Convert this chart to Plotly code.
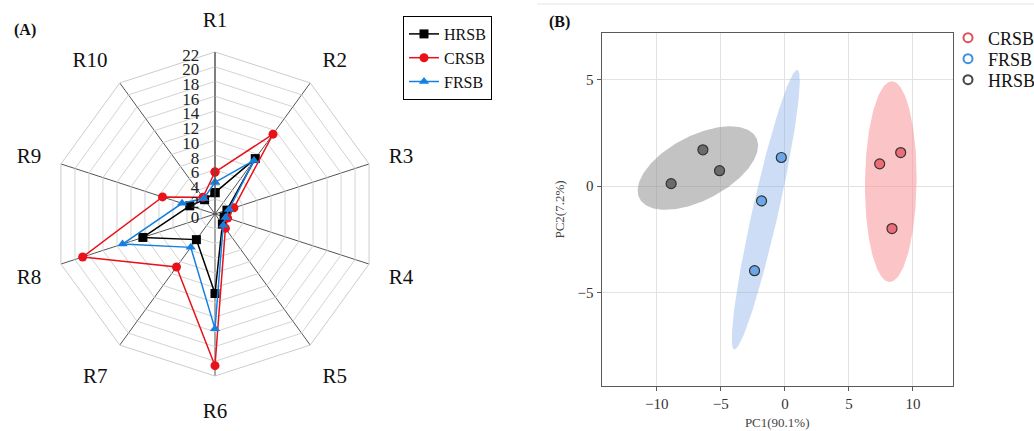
import numpy as np
import plotly.graph_objects as go

# ---------------- Data ----------------
# Panel A: radar chart
radar_axes = ["R1", "R2", "R3", "R4", "R5", "R6", "R7", "R8", "R9", "R10"]
hrsb_radar = [2.9, 9.3, 1.7, 1.3, 1.7, 10.8, 4.3, 10.3, 3.6, 2.4]
crsb_radar = [5.7, 13.4, 2.7, 1.8, 2.4, 20.6, 8.9, 18.9, 7.5, 2.8]
frsb_radar = [4.3, 9.0, 2.0, 1.5, 1.9, 15.6, 5.6, 13.2, 4.7, 2.6]
radial_ticks = list(range(0, 24, 2))

# Panel B: PCA scores
crsb_pc1 = [7.4, 9.04, 8.36]
crsb_pc2 = [1.05, 1.58, -1.99]
frsb_pc1 = [-0.28, -1.82, -2.37]
frsb_pc2 = [1.35, -0.69, -3.97]
hrsb_pc1 = [-8.88, -6.4, -5.1]
hrsb_pc2 = [0.12, 1.71, 0.73]
x_ticks = [-10, -5, 0, 5, 10]
y_ticks = [-5, 0, 5]

SERIF = "Liberation Serif"
W, H = 1034, 431

fig = go.Figure()

# ---------------- Panel A ----------------
radar_series = [
    ("HRSB", hrsb_radar, "#000000", "square"),
    ("CRSB", crsb_radar, "#e8121a", "circle"),
    ("FRSB", frsb_radar, "#1480e0", "triangle-up"),
]
for name, vals, col, sym in radar_series:
    fig.add_trace(go.Scatterpolar(
        r=vals + vals[:1], theta=radar_axes + radar_axes[:1],
        mode="lines+markers", name=name,
        line=dict(color=col, width=1.5),
        marker=dict(color=col, size=9, symbol=sym),
        legend="legend", subplot="polar",
    ))

cx, cy, R = 215, 214, 162
fig.update_layout(
    polar=dict(
        domain=dict(x=[(cx - R) / W, (cx + R) / W],
                    y=[(H - cy - R) / H, (H - cy + R) / H]),
        gridshape="linear",
        bgcolor="white",
        radialaxis=dict(
            range=[0, 22], tickvals=radial_ticks, angle=90, side="counterclockwise",
            showline=True, linecolor="#555555", linewidth=1,
            gridcolor="#d4d4d4", gridwidth=1, ticks="",
            tickfont=dict(family=SERIF, size=17, color="#222222"),
        ),
        angularaxis=dict(
            categoryarray=radar_axes, direction="clockwise", rotation=90,
            gridcolor="#555555", gridwidth=1,
            linecolor="#cccccc", linewidth=1, showline=True,
            ticks="outside", ticklen=16, tickcolor="rgba(0,0,0,0)",
            tickfont=dict(family=SERIF, size=21, color="#111111"),
        ),
    )
)

# ---------------- Panel B ----------------
def ellipse(xs, ys, scale=np.sqrt(5.991), n=200):
    xs = np.asarray(xs, float)
    ys = np.asarray(ys, float)
    cov = np.cov(xs, ys)
    vals, vecs = np.linalg.eigh(cov)
    t = np.linspace(0, 2 * np.pi, n)
    circ = np.vstack([np.cos(t), np.sin(t)]) * np.sqrt(vals)[:, None] * scale
    pts = vecs @ circ
    return pts[0] + xs.mean(), pts[1] + ys.mean()

pca_groups = [
    ("HRSB", hrsb_pc1, hrsb_pc2, "rgba(145,145,145,0.55)", "#6b6b6b", "#444444"),
    ("FRSB", frsb_pc1, frsb_pc2, "rgba(120,165,230,0.38)", "#6aa6e8", "#3d8fe0"),
    ("CRSB", crsb_pc1, crsb_pc2, "rgba(248,150,155,0.55)", "#ec6d78", "#e0505a"),
]
for name, xs, ys, fillc, ptc, legc in pca_groups:
    ex, ey = ellipse(xs, ys)
    fig.add_trace(go.Scatter(
        x=ex, y=ey, mode="lines", fill="toself", fillcolor=fillc,
        line=dict(width=0, color=fillc), showlegend=False, hoverinfo="skip",
        xaxis="x", yaxis="y",
    ))
for name, xs, ys, fillc, ptc, legc in pca_groups:
    fig.add_trace(go.Scatter(
        x=xs, y=ys, mode="markers", name=name,
        marker=dict(size=10, color=ptc, line=dict(color="#333333", width=1.2)),
        showlegend=False, xaxis="x", yaxis="y",
    ))
# legend entries for panel B (hollow circles), one small legend per entry
legend_b_order = ["CRSB", "FRSB", "HRSB"]
legend_b_y = [38, 59, 80]
for i, lname in enumerate(legend_b_order):
    g = [g for g in pca_groups if g[0] == lname][0]
    fig.add_trace(go.Scatter(
        x=[None], y=[None], mode="markers", name=lname,
        marker=dict(size=9, symbol="circle-open", color=g[5], line=dict(width=2, color=g[5])),
        legend=f"legend{i + 2}", xaxis="x", yaxis="y",
    ))

x0p, x1p, y0p, y1p = 601.7, 952.7, 33, 386
axis_common = dict(
    showgrid=True, gridcolor="#e2e2e2", gridwidth=1, zeroline=False,
    showline=True, linecolor="#5a5a5a", linewidth=1.3, mirror=True,
    ticks="outside", ticklen=4, tickcolor="#5a5a5a",
    tickfont=dict(family=SERIF, size=15, color="#333333"),
)
fig.update_layout(
    xaxis=dict(domain=[x0p / W, x1p / W], range=[-14.3, 13.1], tickvals=x_ticks,
               title=dict(text="PC1(90.1%)", font=dict(family=SERIF, size=13, color="#444444"), standoff=6),
               anchor="y", **axis_common),
    yaxis=dict(domain=[(H - y1p) / H, (H - y0p) / H], range=[-9.39, 7.2], tickvals=y_ticks,
               title=dict(text="PC2(7.2%)", font=dict(family=SERIF, size=13, color="#444444"), standoff=10),
               anchor="x", **axis_common),
)

legend_b_common = dict(xanchor="left", yanchor="middle", bgcolor="rgba(0,0,0,0)", borderwidth=0,
                       font=dict(family=SERIF, size=18, color="#111111"), itemwidth=30)
legend_b = {f"legend{i + 2}": dict(x=948 / W, y=1 - yy / H, **legend_b_common)
            for i, yy in enumerate(legend_b_y)}

# ---------------- Legends, labels ----------------
fig.update_layout(
    width=W, height=H, margin=dict(l=0, r=0, t=0, b=0, autoexpand=False),
    paper_bgcolor="white", plot_bgcolor="white",
    showlegend=True,
    legend=dict(x=403 / W, y=1 - 16 / H, xanchor="left", yanchor="top",
                bordercolor="#000000", borderwidth=1, bgcolor="white",
                font=dict(family=SERIF, size=16, color="#111111"),
                itemwidth=30, tracegroupgap=0),
    **legend_b,
    annotations=[
        dict(text="<b>(A)</b>", x=12 / W, y=1 - 30 / H, xref="paper", yref="paper",
             xanchor="left", yanchor="middle", showarrow=False,
             font=dict(family=SERIF, size=16, color="#111111")),
        dict(text="<b>(B)</b>", x=547 / W, y=1 - 22 / H, xref="paper", yref="paper",
             xanchor="left", yanchor="middle", showarrow=False,
             font=dict(family=SERIF, size=16, color="#111111")),
    ],
    shapes=[
        dict(type="line", xref="paper", yref="paper", x0=537 / W, x1=1.0,
             y0=1 - 4 / H, y1=1 - 4 / H, line=dict(color="#eeeeee", width=1.5)),
    ],
)

fig.write_html("out.html", config={"displayModeBar": False},
               post_script="document.body.style.margin='0';document.body.style.padding='0';")
